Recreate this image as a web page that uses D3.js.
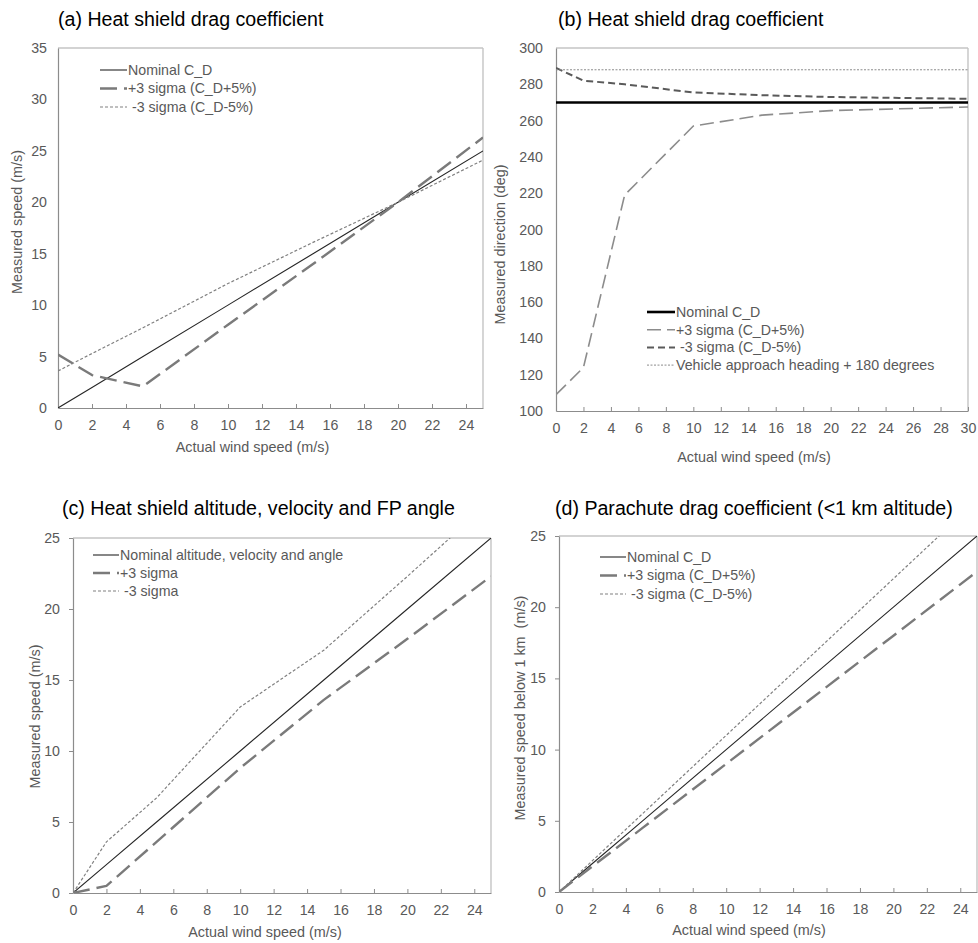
<!DOCTYPE html>
<html>
<head>
<meta charset="utf-8">
<script src="https://cdn.jsdelivr.net/npm/d3@7"></script>
<style>
  html, body { margin: 0; padding: 0; background: #fff; }
  svg { display: block; font-family: "Liberation Sans", Arial, sans-serif; }
  text { white-space: pre; }
</style>
</head>
<body>
<svg id="fig" width="978" height="943"></svg>
<script>
// ---- Panel (a): heat shield drag coefficient, measured speed ----
const speedA = [0, 2, 5, 10, 15, 20, 25];
const aNominal = [0, 2, 5, 10, 15, 20, 25];
const aPlus3 = [5.2, 3.2, 2.1, 8.1, 14.0, 20.0, 26.3];
const aMinus3 = [3.6, 5.3, 7.8, 12.1, 16.1, 20.0, 24.1];

// ---- Panel (b): heat shield drag coefficient, measured direction ----
const speedB = [0, 2, 5, 10, 15, 20, 25, 30];
const bNominal = [270, 270, 270, 270, 270, 270, 270, 270];
const bPlus3 = [109, 124, 219, 257, 263, 265.5, 266.5, 267.5];
const bMinus3 = [289, 282, 280, 275.5, 274, 273, 272.5, 272];
const bHeading = [288, 288, 288, 288, 288, 288, 288, 288];

// ---- Panel (c): heat shield altitude, velocity and FP angle ----
const speedC = [0, 2, 5, 10, 15, 20, 25];
const cNominal = [0, 2, 5, 10, 15, 20, 25];
const cPlus3 = [0, 0.5, 3.6, 8.8, 13.6, 17.9, 22.3];
const cMinus3 = [0, 3.6, 6.7, 13.1, 17.1, 22.3, 27.6];

// ---- Panel (d): parachute drag coefficient below 1 km ----
const speedD = [0, 1, 2, 5, 10, 15, 20, 25];
const dNominal = [0, 1, 2, 5, 10, 15, 20, 25];
const dPlus3 = [0, 0.9, 1.8, 4.5, 9.0, 13.5, 18.0, 22.5];
const dMinus3 = [0, 1.1, 2.2, 5.5, 11.0, 16.5, 22.0, 27.5];

// ---- Tick values and labels ----
const ticksX25 = [0, 2, 4, 6, 8, 10, 12, 14, 16, 18, 20, 22, 24];
const ticksX30 = [0, 2, 4, 6, 8, 10, 12, 14, 16, 18, 20, 22, 24, 26, 28, 30];
const ticksY35 = [0, 5, 10, 15, 20, 25, 30, 35];
const ticksY300 = [100, 120, 140, 160, 180, 200, 220, 240, 260, 280, 300];
const ticksY25 = [0, 5, 10, 15, 20, 25];

const titles = [
  "(a) Heat shield drag coefficient",
  "(b) Heat shield drag coefficient",
  "(c) Heat shield altitude, velocity and FP angle",
  "(d) Parachute drag coefficient (<1 km altitude)"
];
const xTitle = "Actual wind speed (m/s)";
const yTitles = [
  "Measured speed (m/s)",
  "Measured direction (deg)",
  "Measured speed (m/s)",
  "Measured speed below 1 km  (m/s)"
];
const legendCD = ["Nominal C_D", "+3 sigma (C_D+5%)", " -3 sigma (C_D-5%)"];
const legendB = ["Nominal C_D", "+3 sigma (C_D+5%)", " -3 sigma (C_D-5%)", "Vehicle approach heading + 180 degrees"];
const legendC = ["Nominal altitude, velocity and angle", "+3 sigma", " -3 sigma"];

// line styles
const styles = {
  nomThin:  { stroke: "#262626", width: 1.1, dash: null },
  plusA:    { stroke: "#7a7a7a", width: 2.4, dash: "17,7" },
  minusA:   { stroke: "#808080", width: 1.2, dash: "3,2" },
  nomThick: { stroke: "#000000", width: 2.6, dash: null },
  plusB:    { stroke: "#8c8c8c", width: 1.6, dash: "14,6" },
  minusB:   { stroke: "#5a5a5a", width: 2.0, dash: "7,4" },
  headB:    { stroke: "#8c8c8c", width: 1.0, dash: "2,1.5" }
};

const svg = d3.select("#fig");
const tickColor = "#595959";
const axisColor = "#8c8c8c";
const frameColor = "#c4c4c4";
const FONT = "Liberation Sans, Arial, sans-serif";

function panel(cfg) {
  const g = svg.append("g");
  const x = d3.scaleLinear().domain(cfg.xDomain).range([cfg.left, cfg.right]);
  const y = d3.scaleLinear().domain(cfg.yDomain).range([cfg.bottom, cfg.top]);

  // title
  g.append("text").attr("x", cfg.titleX).attr("y", cfg.titleY)
    .attr("font-size", 19.6).attr("fill", "#000").text(cfg.title);

  // frame: top/right light, left/bottom axes darker
  g.append("line").attr("x1", cfg.left).attr("x2", cfg.right)
    .attr("y1", cfg.top).attr("y2", cfg.top)
    .attr("stroke", frameColor).attr("stroke-width", 1.4);
  g.append("line").attr("x1", cfg.right).attr("x2", cfg.right)
    .attr("y1", cfg.top).attr("y2", cfg.bottom)
    .attr("stroke", frameColor).attr("stroke-width", 1.4);

  // x axis (ticks inside)
  const xa = g.append("g").attr("transform", `translate(0,${cfg.bottom})`)
    .call(d3.axisBottom(x).tickValues(cfg.xTicks).tickSizeInner(-4).tickSizeOuter(0).tickPadding(0));
  xa.select(".domain").attr("stroke", axisColor).attr("stroke-width", 1.2);
  xa.selectAll(".tick line").attr("stroke", axisColor);
  xa.selectAll(".tick text").attr("fill", tickColor).attr("font-size", 14.2)
    .attr("dy", null).attr("y", cfg.xTickDy);

  // y axis
  const ya = g.append("g").attr("transform", `translate(${cfg.left},0)`)
    .call(d3.axisLeft(y).tickValues(cfg.yTicks).tickSizeInner(cfg.yTickLen).tickSizeOuter(0).tickPadding(cfg.yPad));
  ya.select(".domain").attr("stroke", axisColor).attr("stroke-width", 1.2);
  ya.selectAll(".tick line").attr("stroke", axisColor);
  ya.selectAll(".tick text").attr("fill", tickColor).attr("font-size", 14.2);
  g.selectAll(".tick text").attr("font-family", FONT);

  // axis titles
  g.append("text").attr("x", (cfg.left + cfg.right) / 2 + cfg.xTitleShift).attr("y", cfg.xTitleY)
    .attr("text-anchor", "middle").attr("font-size", 14.4).attr("fill", tickColor).text(xTitle);
  g.append("text")
    .attr("transform", `translate(${cfg.yTitleX},${(cfg.top + cfg.bottom) / 2 + cfg.yTitleShift}) rotate(-90)`)
    .attr("text-anchor", "middle").attr("dy", "0.35em")
    .attr("font-size", 14.4).attr("fill", tickColor).text(cfg.yTitle);

  // clip to plot area
  const clipId = "clip-" + cfg.id;
  svg.append("clipPath").attr("id", clipId).append("rect")
    .attr("x", cfg.left).attr("y", cfg.top)
    .attr("width", cfg.right - cfg.left).attr("height", cfg.bottom - cfg.top);

  const line = d3.line().x(d => x(d[0])).y(d => y(d[1]));
  const plot = g.append("g").attr("clip-path", `url(#${clipId})`);
  cfg.series.forEach(s => {
    const pts = s.xs.map((v, i) => [v, s.ys[i]]);
    plot.append("path").datum(pts).attr("d", line)
      .attr("fill", "none").attr("stroke", s.style.stroke)
      .attr("stroke-width", s.style.width)
      .attr("stroke-dasharray", s.style.dash)
      .attr("stroke-linejoin", "round");
  });

  // legend
  const lg = g.append("g");
  cfg.series.forEach((s, i) => {
    const ly = cfg.legendY + i * cfg.legendStep;
    lg.append("line").attr("x1", cfg.legendX).attr("x2", cfg.legendX + cfg.legendLen)
      .attr("y1", ly).attr("y2", ly)
      .attr("stroke", s.style.stroke).attr("stroke-width", s.style.width)
      .attr("stroke-dasharray", s.style.dash);
    lg.append("text").attr("x", cfg.legendX + cfg.legendLen + 1).attr("y", ly).attr("dy", "0.35em")
      .attr("font-size", 14.2).attr("fill", tickColor).text(cfg.legendLabels[i]);
  });
}

panel({
  id: "a", title: titles[0], titleX: 58, titleY: 26,
  left: 58, right: 483, top: 48, bottom: 408,
  xDomain: [0, 25], yDomain: [0, 35], xTicks: ticksX25, yTicks: ticksY35,
  xTickDy: 22, yTickLen: 0, yPad: 11,
  xTitleY: 452, xTitleShift: -18, yTitleX: 17, yTitleShift: -6, yTitle: yTitles[0],
  series: [
    { xs: speedA, ys: aNominal, style: styles.nomThin },
    { xs: speedA, ys: aPlus3, style: styles.plusA },
    { xs: speedA, ys: aMinus3, style: styles.minusA }
  ],
  legendLabels: legendCD,
  legendX: 100, legendLen: 27, legendY: 70, legendStep: 18.5
});

panel({
  id: "b", title: titles[1], titleX: 558, titleY: 26,
  left: 556, right: 968, top: 48, bottom: 411,
  xDomain: [0, 30], yDomain: [100, 300], xTicks: ticksX30, yTicks: ticksY300,
  xTickDy: 22, yTickLen: 0, yPad: 13,
  xTitleY: 462, xTitleShift: -8, yTitleX: 500, yTitleShift: 15, yTitle: yTitles[1],
  series: [
    { xs: speedB, ys: bNominal, style: styles.nomThick },
    { xs: speedB, ys: bPlus3, style: styles.plusB },
    { xs: speedB, ys: bMinus3, style: styles.minusB },
    { xs: speedB, ys: bHeading, style: styles.headB }
  ],
  legendLabels: legendB,
  legendX: 647, legendLen: 28, legendY: 312, legendStep: 17.7
});

panel({
  id: "c", title: titles[2], titleX: 62, titleY: 515,
  left: 73, right: 491, top: 538, bottom: 893,
  xDomain: [0, 25], yDomain: [0, 25], xTicks: ticksX25, yTicks: ticksY25,
  xTickDy: 22, yTickLen: 4, yPad: 9,
  xTitleY: 937, xTitleShift: -17, yTitleX: 35, yTitleShift: 1, yTitle: yTitles[2],
  series: [
    { xs: speedC, ys: cNominal, style: styles.nomThin },
    { xs: speedC, ys: cPlus3, style: styles.plusA },
    { xs: speedC, ys: cMinus3, style: styles.minusA }
  ],
  legendLabels: legendC,
  legendX: 93, legendLen: 26, legendY: 555, legendStep: 18
});

panel({
  id: "d", title: titles[3], titleX: 555, titleY: 515,
  left: 559, right: 977, top: 536, bottom: 892,
  xDomain: [0, 25], yDomain: [0, 25], xTicks: ticksX25, yTicks: ticksY25,
  xTickDy: 22, yTickLen: 4, yPad: 9,
  xTitleY: 935, xTitleShift: -19, yTitleX: 520, yTitleShift: -6, yTitle: yTitles[3],
  series: [
    { xs: speedD, ys: dNominal, style: styles.nomThin },
    { xs: speedD, ys: dPlus3, style: styles.plusA },
    { xs: speedD, ys: dMinus3, style: styles.minusA }
  ],
  legendLabels: legendCD,
  legendX: 600, legendLen: 26, legendY: 557, legendStep: 18.5
});
</script>
</body>
</html>
